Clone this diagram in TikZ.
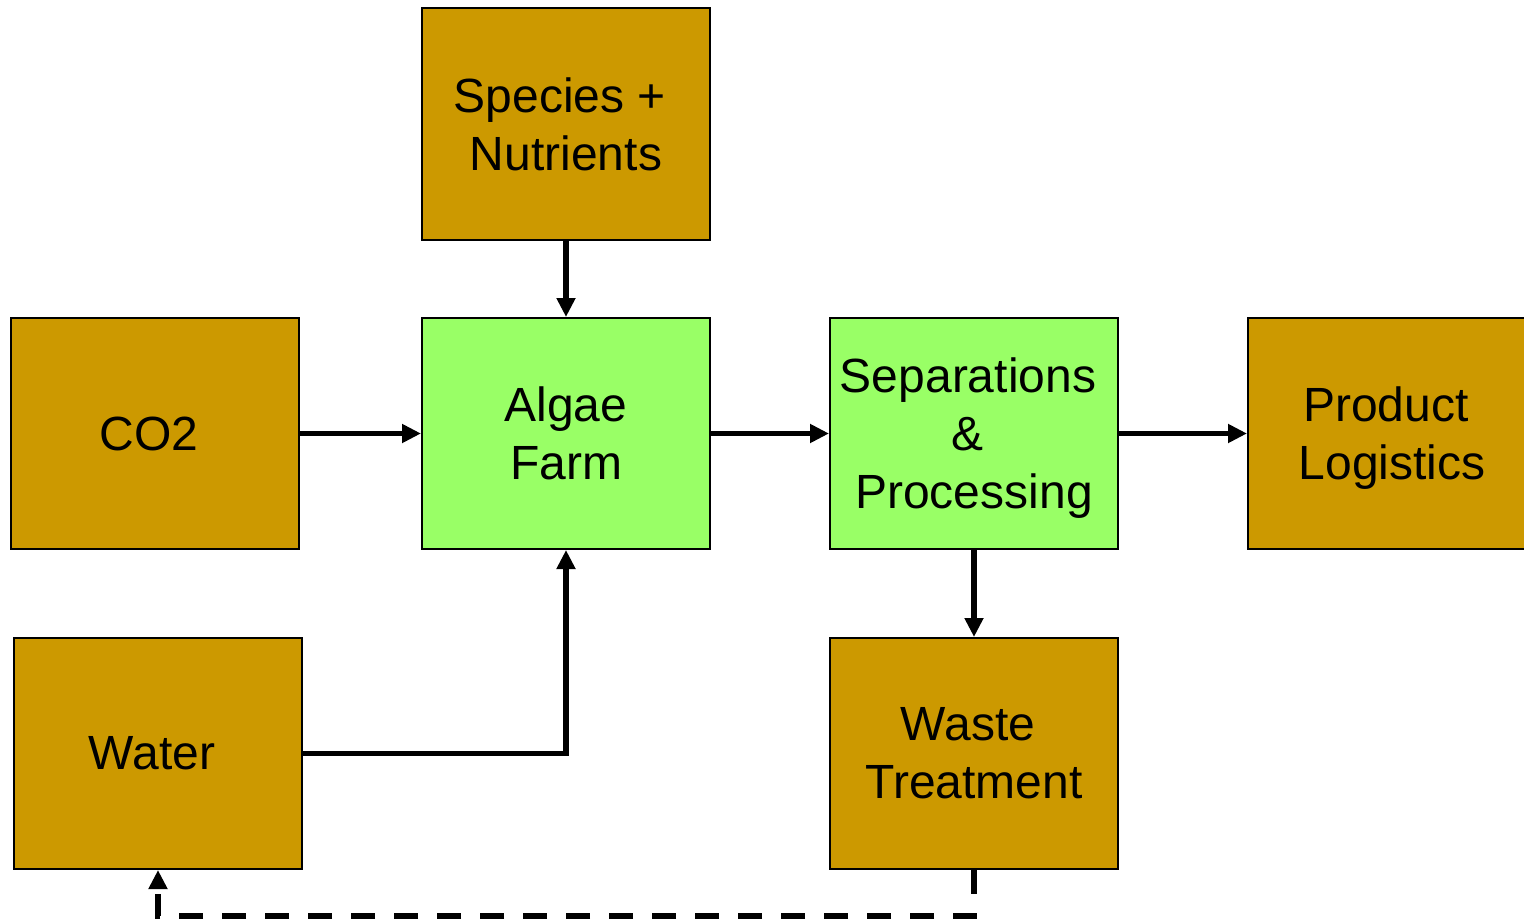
\documentclass[tikz,border=0pt]{standalone}
\usepackage{fontspec}
\setmainfont{Liberation Sans}
\usetikzlibrary{arrows.meta}
\definecolor{gold}{HTML}{CC9900}
\definecolor{lgreen}{HTML}{99FF66}
\newcommand\nodepth[1]{\raisebox{0pt}[\height][0pt]{#1}}
\newcommand\tsp{\rule{12pt}{0pt}}
\begin{document}
\begin{tikzpicture}[x=1pt,y=-1pt,
  box/.style={draw=black,line width=2pt,minimum width=288pt,minimum height=231pt,inner sep=0pt,align=center,font=\fontsize{48}{58}\selectfont},
  brown/.style={box,fill=gold},
  green/.style={box,fill=lgreen},
  conn/.style={line width=5.5pt,-{Triangle[length=19pt,width=18pt]}},
  ]
\useasboundingbox (0,0) rectangle (1524,923);
\node[brown] (sp) at (566,124) {Species +\tsp\\ Nutrients};
\node[brown] (co2) at (155,433.5) {CO2\tsp};
\node[green] (af) at (566,433.5) {Algae\\Farm};
\node[green] (sep) at (974,433.5) {Separations\tsp\\ \&\rule{14pt}{0pt}\\ \nodepth{Processing}};
\node[brown] (pl) at (1392,433.5) {Product\tsp\\ \nodepth{Logistics}};
\node[brown] (wa) at (158,753.5) {Water\tsp};
\node[brown] (wt) at (974,753.5) {Waste\tsp\\ Treatment};
\draw[conn] (sp.south) -- (af.north);
\draw[conn] (co2.east) -- (af.west);
\draw[conn] (af.east) -- (sep.west);
\draw[conn] (sep.east) -- (pl.west);
\draw[conn] (sep.south) -- (wt.north);
\draw[conn] (wa.east) -| (af.south);
\coordinate (c1) at (974,916);
\draw[conn,dash pattern=on 24pt off 19pt] (wt.south) -- (c1) -| (wa.south);
\end{tikzpicture}
\end{document}
